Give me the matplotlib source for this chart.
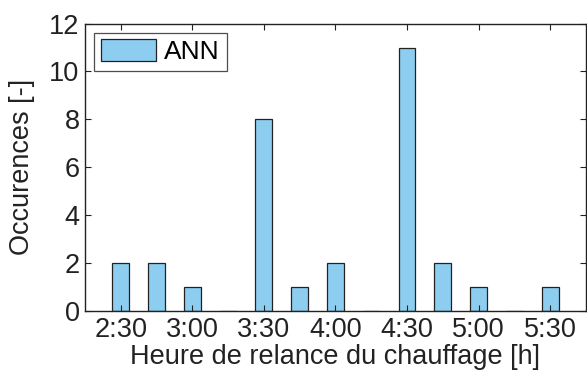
import matplotlib
matplotlib.use("Agg")
import matplotlib.pyplot as plt
import numpy as np

times = ["2:30", "2:45", "3:00", "3:15", "3:30", "3:45", "4:00", "4:15", "4:30", "4:45", "5:00", "5:15", "5:30"]
counts = [2, 2, 1, 0, 8, 1, 2, 0, 11, 2, 1, 0, 1]
tick_labels = ["2:30", "3:00", "3:30", "4:00", "4:30", "5:00", "5:30"]
series_name = "ANN"

def to_hours(s):
    h, m = s.split(":")
    return int(h) + int(m) / 60.0

x = np.array([to_hours(t) for t in times])
xt = np.array([to_hours(t) for t in tick_labels])

plt.rcParams['font.family'] = ['Liberation Sans', 'DejaVu Sans']
fig = plt.figure(figsize=(5.87, 3.74), dpi=100)
ax = fig.add_axes([0.145, 0.168, 0.853, 0.769])

ax.bar(x, counts, width=0.118, color="#8DCDF0", edgecolor="#222222", linewidth=0.9, label=series_name)
ax.set_xlim(2.25, 5.75)
ax.set_ylim(0, 12)
ax.set_xticks(xt)
ax.set_xticklabels(tick_labels)
ax.set_yticks(np.arange(0, 13, 2))
ax.tick_params(direction="in", top=True, right=True, labelsize=19.5, length=4, width=0.8, colors="#222222", pad=4)
for sp in ax.spines.values():
    sp.set_linewidth(1.0)
    sp.set_color("#222222")
ax.set_xlabel("Heure de relance du chauffage [h]", fontsize=19.5, color="#222222", labelpad=1)
ax.set_ylabel("Occurences [-]", fontsize=19.5, color="#222222", labelpad=10)
leg = ax.legend(loc="upper left", fontsize=19, frameon=True, fancybox=False, edgecolor="#222222",
                handlelength=2.1, handleheight=0.9, borderpad=0.25, handletextpad=0.3, borderaxespad=0.35)
leg.get_frame().set_linewidth(0.9)
fig.savefig("out.png", dpi=100)
